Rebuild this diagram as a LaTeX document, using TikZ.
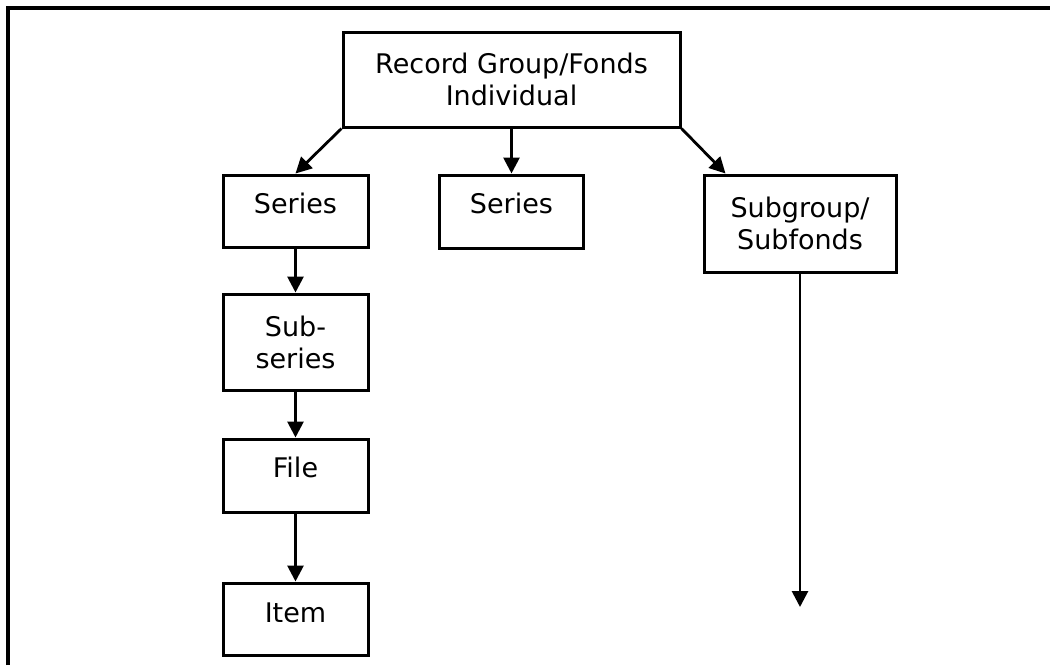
\documentclass[tikz,border=0pt]{standalone}
\usepackage{fontspec}
\setmainfont{DejaVu Sans}
\usetikzlibrary{arrows.meta}
\begin{document}
\begin{tikzpicture}[x=1pt,y=-1pt,
  box/.style={draw=black,line width=3pt,inner sep=0pt,align=center,
    font=\fontsize{27}{32}\selectfont},
  onel/.style={text height=19pt,text depth=15pt},
  conn/.style={line width=2.8pt,-{Triangle[length=16pt,width=16pt]}},
  frame/.style={line width=3.2pt}]
\useasboundingbox (0,0) rectangle (1050,665);
\draw[frame] (8,665) -- (8,8) -- (1050,8);
\node[box,minimum width=337pt,minimum height=95pt] (top) at (511.5,79.5) {Record Group/Fonds\\Individual};
\node[box,onel,minimum width=145pt,minimum height=72pt] (s1) at (295.5,211) {Series};
\node[box,onel,minimum width=144pt,minimum height=73pt] (s2) at (511.5,211.5) {Series};
\node[box,minimum width=192pt,minimum height=97pt] (sg) at (800,223.5) {Subgroup/\\Subfonds};
\node[box,minimum width=145pt,minimum height=96pt] (ss) at (295.5,342) {Sub-\\series};
\node[box,onel,minimum width=145pt,minimum height=73pt] (file) at (295.5,475.5) {File};
\node[box,text height=19pt,text depth=13pt,minimum width=145pt,minimum height=72pt] (item) at (295.5,619) {Item};
\coordinate (sgend) at (800,607);
\draw[conn] (top.south west) -- (s1.north);
\draw[conn] (top.south) -- (s2.north);
\draw[conn] (top.south east) -- ([xshift=23pt]sg.north west);
\draw[conn] (s1.south) -- (ss.north);
\draw[conn] (ss.south) -- (file.north);
\draw[conn] (file.south) -- (item.north);
\draw[conn] (sg.south) -- (sgend);
\end{tikzpicture}
\end{document}
